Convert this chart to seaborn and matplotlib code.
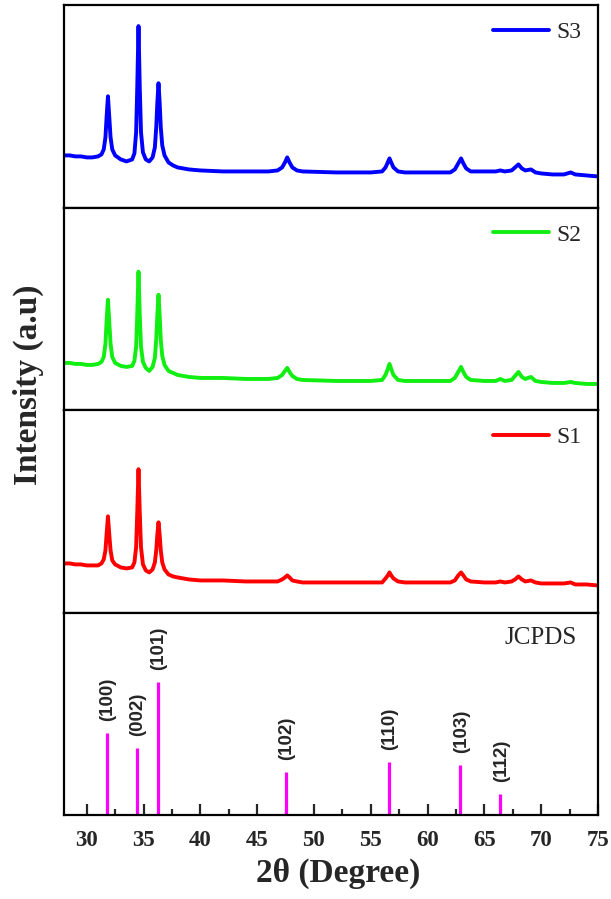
import pandas as pd
import matplotlib
matplotlib.use('Agg')
import matplotlib.pyplot as plt
from matplotlib.ticker import MultipleLocator, NullLocator
import seaborn as sns

# 2-theta positions (deg) shared by the three measured patterns
two_theta = [28.0, 28.5, 29.0, 29.5, 30.0, 30.5, 31.0, 31.3, 31.5, 31.65,
             31.75, 31.87, 32.0, 32.1, 32.25, 32.5, 33.0, 33.5, 34.0, 34.2,
             34.35, 34.45, 34.56, 34.67, 34.78, 34.95, 35.2, 35.5, 35.8, 36.0,
             36.12, 36.22, 36.32, 36.42, 36.52, 36.65, 36.85, 37.2, 37.6, 38.0,
             39, 40, 42, 44, 46, 46.8, 47.2, 47.45, 47.65, 47.85,
             48.1, 48.5, 49, 52, 55, 56.0, 56.3, 56.5, 56.65, 56.8,
             57.0, 57.4, 58, 60, 62.0, 62.4, 62.7, 62.95, 63.15, 63.4,
             63.8, 65, 66.0, 66.4, 66.8, 67.4, 67.7, 68.0, 68.3, 68.6,
             69.1, 69.5, 70, 71, 72, 72.6, 73.0, 74, 75]

s3 = [52, 52, 51, 51, 50, 50, 51, 53, 58, 70,
      90, 111, 88, 70, 58, 52, 48, 46, 48, 54,
      75, 120, 181, 120, 75, 55, 48, 46, 50, 60,
      80, 105, 124, 105, 80, 62, 52, 45, 42, 40,
      38, 37, 36, 36, 36, 37, 40, 45, 50, 45,
      40, 37, 36, 35, 35, 36, 40, 45, 49, 45,
      40, 36, 35, 35, 35, 38, 44, 49, 44, 39,
      36, 36, 36, 37, 36, 37, 40, 43, 39, 37,
      38, 35, 34, 33, 33, 35, 33, 32, 31]

s2 = [47, 47, 46, 46, 45, 45, 46, 48, 53, 66,
      88, 110, 85, 66, 53, 47, 44, 43, 44, 49,
      63, 95, 138, 95, 63, 48, 42, 39, 43, 52,
      70, 95, 115, 95, 70, 54, 45, 39, 37, 35,
      33, 32, 32, 31, 31, 32, 35, 39, 42, 38,
      34, 31, 30, 29, 29, 30, 35, 41, 46, 41,
      35, 30, 29, 29, 29, 32, 38, 43, 38, 33,
      30, 29, 29, 31, 29, 30, 34, 38, 33, 31,
      33, 29, 28, 27, 27, 28, 27, 26, 26]

s1 = [49, 49, 48, 48, 47, 47, 47, 49, 53, 62,
      78, 96, 76, 62, 52, 48, 45, 44, 45, 50,
      65, 100, 143, 100, 65, 48, 42, 40, 43, 50,
      62, 78, 90, 78, 62, 50, 43, 38, 36, 35,
      33, 32, 32, 31, 31, 31, 33, 35, 37, 35,
      32, 31, 30, 30, 30, 30, 34, 37, 40, 37,
      34, 31, 30, 30, 30, 32, 37, 40, 37, 33,
      31, 30, 30, 31, 30, 31, 33, 36, 33, 31,
      32, 30, 29, 29, 29, 30, 28, 28, 27]

# JCPDS reference lines
jcpds_pos = [31.77, 34.42, 36.25, 47.54, 56.6, 62.86, 66.4]
jcpds_int = [82, 67, 133, 43, 53, 50, 21]
jcpds_hkl = ['(100)', '(002)', '(101)', '(102)', '(110)', '(103)', '(112)']

x_ticks = [30, 35, 40, 45, 50, 55, 60, 65, 70, 75]
x_ticklabels = ['30', '35', '40', '45', '50', '55', '60', '65', '70', '75']

df = pd.DataFrame({'2theta': two_theta, 'S3': s3, 'S2': s2, 'S1': s1})

sns.set_style('ticks')
plt.rcParams['font.family'] = ['Liberation Serif', 'DejaVu Serif']
plt.rcParams['axes.linewidth'] = 1.5

fig, axes = plt.subplots(4, 1, figsize=(6.11, 8.99), dpi=100, sharex=True)
fig.subplots_adjust(left=0.1047, right=0.9787, top=0.9944, bottom=0.0934, hspace=0)

samples = [('S3', '#0000ff'), ('S2', '#11ee11'), ('S1', '#ff0000')]
for ax, (name, color) in zip(axes[:3], samples):
    sns.lineplot(data=df, x='2theta', y=name, ax=ax, color=color, linewidth=2.8, label=name)
    ax.legend(loc='upper right', frameon=False, handlelength=2.4, handletextpad=0.3,
              borderaxespad=0.3, prop={'family': 'Liberation Serif', 'size': 17})

# Reference stick pattern
ax = axes[3]
ax.vlines(jcpds_pos, 0, jcpds_int, color='#ff00ff', linewidth=2.3)
for p, h, lab in zip(jcpds_pos, jcpds_int, jcpds_hkl):
    ax.text(p + 0.1, h + 12, lab, rotation=90, ha='center', va='bottom',
            fontsize=13.5, fontweight='bold', family='Liberation Sans')
ax.text(0.961, 0.93, 'JCPDS', transform=ax.transAxes, ha='right', va='top',
        fontsize=18, family='Liberation Serif')

for ax in axes:
    ax.set_xlim(28, 75)
    ax.set_ylim(0, 202)
    ax.set_xlabel('')
    ax.set_ylabel('')
    ax.yaxis.set_major_locator(NullLocator())
    for s in ax.spines.values():
        s.set_visible(True)
        s.set_color('black')
        s.set_linewidth(1.6)
    ax.tick_params(axis='x', which='both', bottom=False, top=False, labelbottom=False)

ax = axes[3]
ax.set_xticks(x_ticks)
ax.set_xticklabels(x_ticklabels, fontweight='bold', fontsize=16.5)
ax.xaxis.set_minor_locator(MultipleLocator(2.5))
ax.tick_params(axis='x', which='both', direction='in', bottom=True, labelbottom=True)
ax.tick_params(axis='x', which='major', length=8, width=1.6, pad=11)
ax.tick_params(axis='x', which='minor', length=4, width=1.6)

fig.text(0.553, 0.028, '2θ (Degree)', ha='center', va='center', fontsize=24, fontweight='bold')
fig.text(0.046, 0.572, 'Intensity (a.u)', ha='center', va='center', rotation=90,
         fontsize=24, fontweight='bold')

fig.savefig('out.png', dpi=100)
